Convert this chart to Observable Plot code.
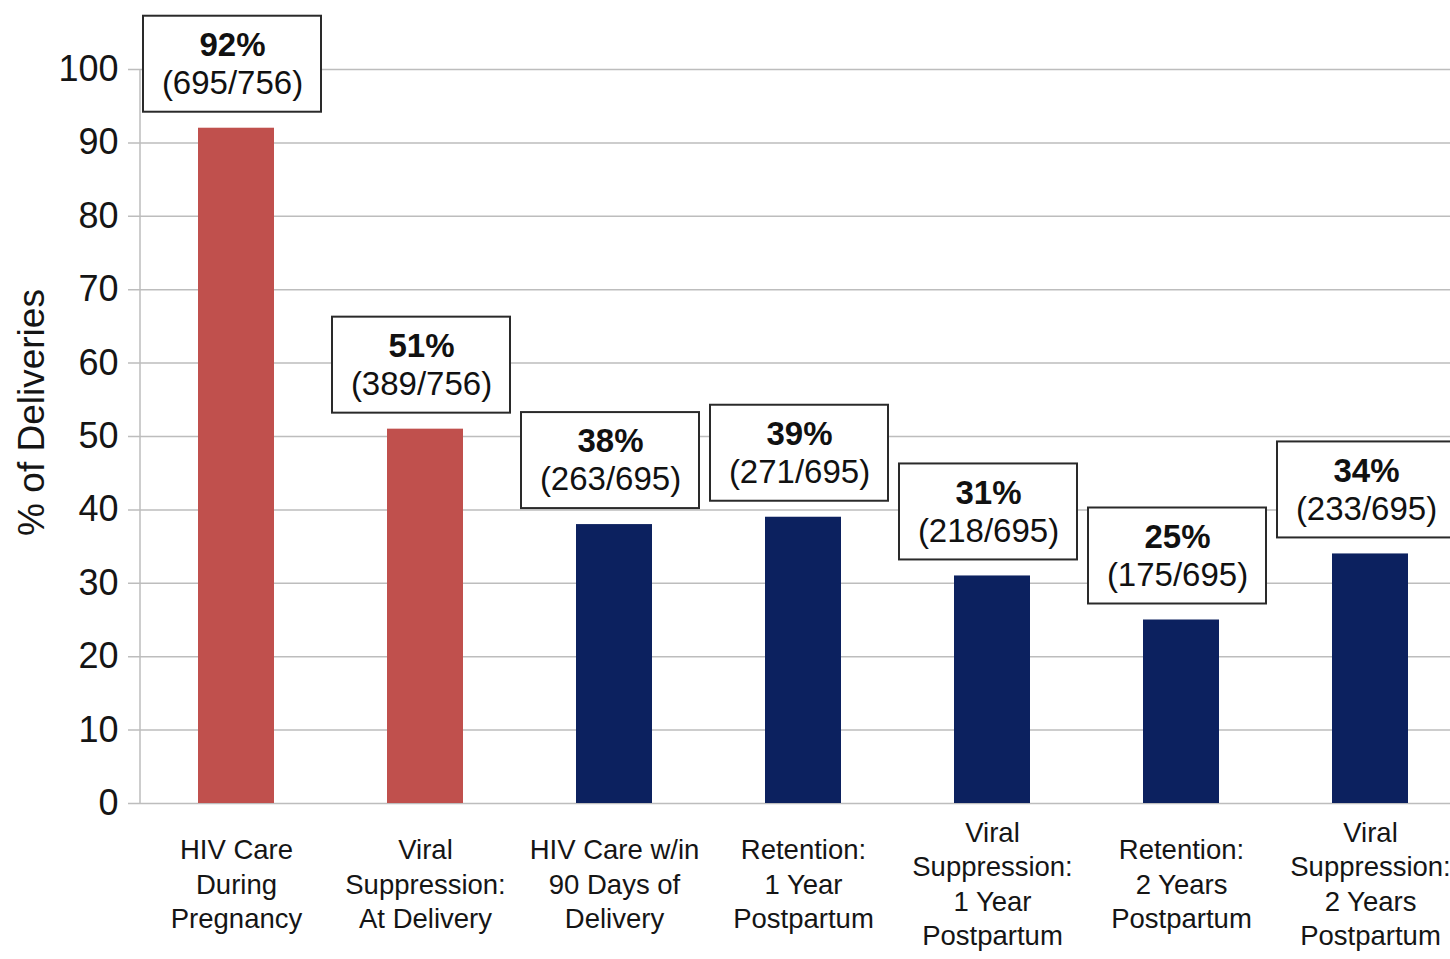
<!DOCTYPE html>
<html>
<head>
<meta charset="utf-8">
<script src="https://cdn.jsdelivr.net/npm/d3@7"></script>
<script src="https://cdn.jsdelivr.net/npm/@observablehq/plot@0.6"></script>
<style>
  html, body { margin: 0; padding: 0; background: #fff; overflow: hidden; }
  #chart svg { display: block; }
</style>
</head>
<body>
<div id="chart"></div>
<script>
// Care cascade stages (category labels, one line per "\n")
const stages = [
  "HIV Care\nDuring\nPregnancy",
  "Viral\nSuppression:\nAt Delivery",
  "HIV Care w/in\n90 Days of\nDelivery",
  "Retention:\n1 Year\nPostpartum",
  "Viral\nSuppression:\n1 Year\nPostpartum",
  "Retention:\n2 Years\nPostpartum",
  "Viral\nSuppression:\n2 Years\nPostpartum"
];
// Percentage of deliveries reaching each stage
const percents = [92, 51, 38, 39, 31, 25, 34];
// Numerator / denominator shown under each percentage
const fractions = ["(695/756)", "(389/756)", "(263/695)", "(271/695)", "(218/695)", "(175/695)", "(233/695)"];
// Period of each stage: pregnancy/delivery vs. postpartum
const periods = ["Pregnancy", "Pregnancy", "Postpartum", "Postpartum", "Postpartum", "Postpartum", "Postpartum"];
// Y-axis ticks
const yTicks = [0, 10, 20, 30, 40, 50, 60, 70, 80, 90, 100];

const rows = stages.map((stage, i) => ({
  stage,
  pct: percents[i],
  pctLabel: `${percents[i]}%`,
  fraction: fractions[i],
  period: periods[i]
}));

const font = "'Liberation Sans', Arial, Helvetica, sans-serif";
const gridColor = "#bdbdbd";
const textColor = "#151515";

// Vertical y-axis line along the left edge of the frame
const axisLine = (index, scales, values, dims) => {
  const ns = "http://www.w3.org/2000/svg";
  const line = document.createElementNS(ns, "line");
  line.setAttribute("x1", dims.marginLeft);
  line.setAttribute("x2", dims.marginLeft);
  line.setAttribute("y1", scales.y(0));
  line.setAttribute("y2", scales.y(100));
  line.setAttribute("stroke", gridColor);
  line.setAttribute("stroke-width", 1.5);
  return line;
};

const chart = Plot.plot({
  width: 1450,
  height: 959,
  marginTop: 69,
  marginBottom: 156,
  marginLeft: 140,
  marginRight: 0,
  style: { fontFamily: font, background: "#fff", color: textColor, overflow: "visible" },
  x: {
    domain: stages,
    range: [140, 1465],
    paddingInner: 0.6,
    paddingOuter: 0.3,
    label: null,
    axis: null
  },
  y: { domain: [0, 100], label: null },
  color: { domain: ["Pregnancy", "Postpartum"], range: ["#c0504d", "#0c215f"] },
  marks: [
    // horizontal gridlines, extended a little left of the axis as tick marks
    Plot.ruleY(yTicks, { stroke: gridColor, strokeWidth: 1.5, insetLeft: -12 }),
    axisLine,
    Plot.axisY({
      ticks: yTicks,
      tickSize: 0,
      tickPadding: 22,
      fontSize: 36,
      label: null
    }),
    // category labels below the bars, vertically centred on a common line
    Plot.text(rows, {
      x: "stage",
      text: "stage",
      frameAnchor: "bottom",
      dy: 79,
      fontSize: 27.5,
      lineHeight: 1.25,
      lineAnchor: "middle",
      fill: textColor
    }),
    Plot.barY(rows, { x: "stage", y: "pct", fill: "period" }),
    // white label boxes floating above each bar
    Plot.barY(rows, {
      x: "stage",
      y1: "pct",
      y2: "pct",
      fill: "#fff",
      stroke: "#2a2a2a",
      strokeWidth: 2,
      insetLeft: -55,
      insetRight: -47,
      insetTop: -112,
      insetBottom: 16
    }),
    Plot.text(rows, {
      x: "stage",
      y: "pct",
      text: "pctLabel",
      dx: -4,
      dy: -83,
      fontSize: 33,
      fontWeight: "bold",
      fill: "#111",
      lineAnchor: "middle"
    }),
    Plot.text(rows, {
      x: "stage",
      y: "pct",
      text: "fraction",
      dx: -4,
      dy: -45,
      fontSize: 33,
      fill: "#111",
      lineAnchor: "middle"
    }),
    // y-axis title
    Plot.text(["% of Deliveries"], {
      frameAnchor: "left",
      rotate: -90,
      dx: -108,
      dy: -24,
      fontSize: 37,
      fill: textColor,
      textAnchor: "middle",
      lineAnchor: "middle"
    })
  ]
});

document.getElementById("chart").appendChild(chart);
</script>
</body>
</html>
